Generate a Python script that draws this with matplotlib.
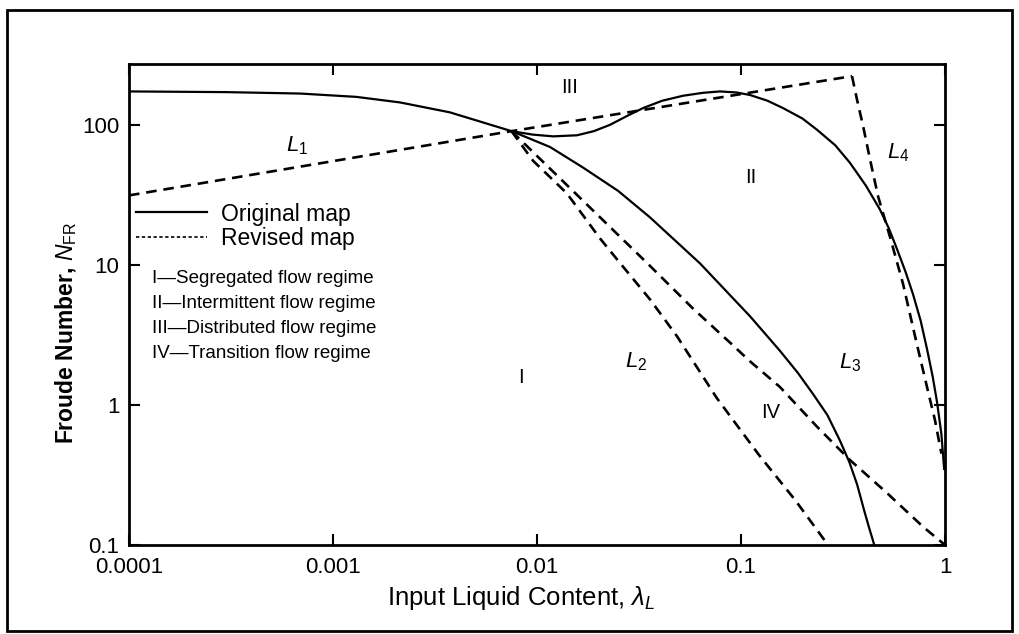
import matplotlib
matplotlib.use('Agg')
import matplotlib.pyplot as plt
from matplotlib.lines import Line2D
from matplotlib.patches import Rectangle
from matplotlib.ticker import NullLocator, FixedLocator, FixedFormatter

plt.rcParams['font.family'] = ['Liberation Sans', 'DejaVu Sans']
plt.rcParams['mathtext.fontset'] = 'custom'
plt.rcParams['mathtext.rm'] = 'Liberation Sans'
plt.rcParams['mathtext.it'] = 'Liberation Sans:italic'
plt.rcParams['mathtext.bf'] = 'Liberation Sans:bold'

# ---------------- data ----------------
# Original map (solid lines)
orig_a_x = [1e-4, 3e-4, 6.9e-4, 1.3e-3, 2.13e-3, 3.74e-3, 7.5e-3, 0.0095, 0.0116,
            0.0168, 0.025, 0.0358, 0.063, 0.111, 0.155, 0.19, 0.2255, 0.265, 0.305,
            0.34, 0.371, 0.40, 0.42, 0.45]
orig_a_y = [175, 173, 169, 160, 146, 124, 91, 79, 70,
            50, 34, 22, 10.3, 4.3, 2.45, 1.7, 1.2, 0.85, 0.56,
            0.39, 0.27, 0.18, 0.14, 0.1]

orig_b_x = [7.5e-3, 0.0095, 0.012, 0.0157, 0.019, 0.0228, 0.028, 0.0331, 0.041,
            0.052, 0.065, 0.0789, 0.095, 0.1107, 0.135, 0.1607, 0.2, 0.236, 0.29,
            0.342, 0.41, 0.48, 0.53, 0.58, 0.64, 0.697, 0.76, 0.817, 0.87, 0.914,
            0.96, 0.99]
orig_b_y = [91, 86, 83.5, 85, 91, 101, 118, 133, 150,
            163, 171, 175, 172, 165, 150, 133, 112, 93, 72,
            54, 37, 25, 18.4, 13.2, 9.0, 6.2, 4.0, 2.5, 1.6, 1.05,
            0.62, 0.35]

# Revised map (dashed lines)
rev_l1_x = [1e-4, 7.5e-3, 0.35]
rev_l1_y = [31.6, 91, 225]

rev_l4_x = [0.35, 0.371, 0.396, 0.428, 0.47, 0.537, 0.622, 0.729, 0.826, 0.893, 0.96]
rev_l4_y = [225, 151, 100, 58, 31, 16.0, 7.4, 2.7, 1.25, 0.78, 0.45]

rev_l2_x = [7.5e-3, 0.00955, 0.014, 0.0204, 0.0247, 0.0358, 0.0486, 0.0762, 0.1225,
            0.184, 0.267]
rev_l2_y = [91, 56, 32.7, 15.5, 11.0, 5.7, 3.1, 1.12, 0.44, 0.21, 0.1]

rev_l3_x = [7.5e-3, 0.015, 0.0358, 0.0582, 0.0883, 0.111, 0.155, 0.236, 0.342, 0.52,
            0.78, 1.0]
rev_l3_y = [91, 34, 9.9, 4.9, 2.8, 2.05, 1.35, 0.70, 0.405, 0.235, 0.135, 0.1]

# Region and line labels
region_names = ['I', 'II', 'III', 'IV']
region_x = [0.00835, 0.111, 0.0145, 0.139]
region_y = [1.58, 42.5, 187, 0.89]

line_names = ['$L_1$', '$L_2$', '$L_3$', '$L_4$']
line_x = [6.7e-4, 0.0305, 0.342, 0.589]
line_y = [72, 2.03, 2.0, 64]

legend_labels = ['Original map', 'Revised map']
regime_labels = ['I\u2014Segregated flow regime',
                 'II\u2014Intermittent flow regime',
                 'III\u2014Distributed flow regime',
                 'IV\u2014Transition flow regime']

x_ticks = [1e-4, 1e-3, 1e-2, 1e-1, 1]
x_tick_labels = ['0.0001', '0.001', '0.01', '0.1', '1']
y_ticks = [0.1, 1, 10, 100]
y_tick_labels = ['0.1', '1', '10', '100']

# ---------------- figure ----------------
fig = plt.figure(figsize=(10.19, 6.34), dpi=100)
fig.patches.append(Rectangle((0.0069, 0.005), 0.986, 0.979, transform=fig.transFigure,
                             fill=False, edgecolor='black', linewidth=2.0))

ax = fig.add_axes([0.1266, 0.1404, 0.8008, 0.7587])
ax.set_xscale('log')
ax.set_yscale('log')
ax.set_xlim(1e-4, 1)
ax.set_ylim(0.1, 275)

solid_kw = dict(color='black', lw=1.6, solid_joinstyle='round')
dash_kw = dict(color='black', lw=1.9, linestyle=(0, (4, 2.6)))

ax.plot(orig_a_x, orig_a_y, **solid_kw)
ax.plot(orig_b_x, orig_b_y, **solid_kw)
ax.plot(rev_l1_x, rev_l1_y, **dash_kw)
ax.plot(rev_l4_x, rev_l4_y, **dash_kw)
ax.plot(rev_l2_x, rev_l2_y, **dash_kw)
ax.plot(rev_l3_x, rev_l3_y, **dash_kw)

for name, x, y in zip(region_names, region_x, region_y):
    ax.text(x, y, name, ha='center', va='center', fontsize=14.5)
for name, x, y in zip(line_names, line_x, line_y):
    ax.text(x, y, name, ha='center', va='center', fontsize=16)

handles = [Line2D([], [], color='black', lw=1.6),
           Line2D([], [], color='black', lw=1.2, linestyle=(0, (2, 1.5)))]
leg = ax.legend(handles, legend_labels, loc='upper left', bbox_to_anchor=(0.008, 0.712),
                frameon=False, fontsize=16.5, handlelength=3.1, handletextpad=0.65,
                borderpad=0, borderaxespad=0, labelspacing=0.08)

for i, txt in enumerate(regime_labels):
    ax.text(0.028, 0.555 - i * 0.052, txt, transform=ax.transAxes,
            ha='left', va='center', fontsize=13.5)

ax.xaxis.set_major_locator(FixedLocator(x_ticks))
ax.xaxis.set_major_formatter(FixedFormatter(x_tick_labels))
ax.yaxis.set_major_locator(FixedLocator(y_ticks))
ax.yaxis.set_major_formatter(FixedFormatter(y_tick_labels))
ax.xaxis.set_minor_locator(NullLocator())
ax.yaxis.set_minor_locator(NullLocator())
ax.tick_params(which='major', direction='in', top=True, right=True,
               length=8, width=1.5, labelsize=16)
ax.tick_params(axis='x', pad=9)
ax.tick_params(axis='y', pad=7)
for s in ax.spines.values():
    s.set_linewidth(2.0)

fig.text(66 / 1019, 1 - 333 / 634, 'Froude Number, $\\mathit{N}_{\\mathrm{FR}}$',
         rotation=90, ha='center', va='center', fontsize=16.5, fontweight='bold')
fig.text(521 / 1019, 1 - 598 / 634, 'Input Liquid Content, $\\lambda_L$',
         ha='center', va='center', fontsize=18.5)

fig.savefig('out.png', dpi=100)
